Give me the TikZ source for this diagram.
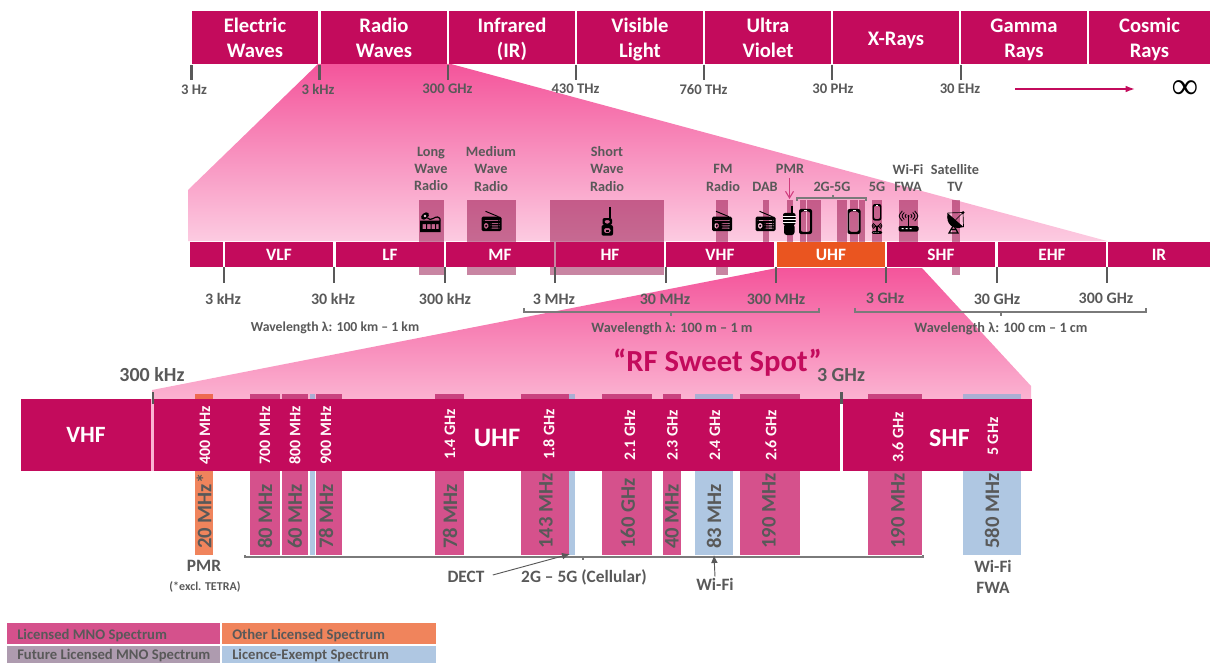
\documentclass[tikz,border=0pt]{standalone}
\usepackage{fontspec}
\setmainfont{Carlito}
\newfontfamily\inffont{Liberation Serif}
\usetikzlibrary{arrows.meta}
\definecolor{barc}{HTML}{C30B5C}
\definecolor{uhfc}{HTML}{EA5520}
\definecolor{txtc}{HTML}{595959}
\definecolor{tickc}{HTML}{595959}
\definecolor{brk}{HTML}{7A7A7A}
\definecolor{fa}{HTML}{F4559B}
\definecolor{fb}{HTML}{FCCBE1}
\definecolor{fc}{HTML}{FBB4D2}
\definecolor{band}{HTML}{8C003C}
\definecolor{lic}{HTML}{D5518C}
\definecolor{lict}{HTML}{C9437F}
\definecolor{oth}{HTML}{F0845C}
\definecolor{otht}{HTML}{EE6A50}
\definecolor{fut}{HTML}{AE9BAF}
\definecolor{exm}{HTML}{AFC7E2}
\definecolor{exmt}{HTML}{ABAFD4}
\newcommand\fsz[2]{\fontsize{#1}{#2}\selectfont\bfseries}
\newcommand\bx[7]{\path[#1] (#3,#4) rectangle (#5,#6) node[pos=.5,align=center,inner sep=0pt,#2]{#7};}
\tikzset{
  x=0.75pt,y=-0.75pt,
  topbar/.style={fill=barc},
  toptext/.style={text=white,font=\fsz{15.5}{18.75},yshift=-1.9pt},
  midbar/.style={fill=barc},
  midtext/.style={text=white,font=\fsz{13}{15}},
  lowbar/.style={fill=barc},
  lowtext/.style={text=white,font=\fsz{17.5}{20}},
  tickmark/.style={draw=tickc,line width=2.2pt},
  toplabel/.style={text=txtc,font=\fsz{11}{13},inner sep=0pt,yshift=-.5pt},
  midlabel/.style={text=txtc,font=\fsz{12}{14},inner sep=0pt},
  wave/.style={text=txtc,font=\fsz{10.7}{13},inner sep=0pt,yshift=-.6pt},
  svc/.style={text=txtc,font=\fsz{10.7}{13},inner sep=0pt,align=center},
  bigfreq/.style={text=txtc,font=\fsz{15}{18},inner sep=0pt},
  vwhite/.style={rotate=90,anchor=west,text=white!90!pink,font=\fsz{12}{14},inner sep=0pt},
  vgrey/.style={rotate=90,anchor=west,text=txtc,font=\fsz{15.5}{18},inner sep=0pt},
  under/.style={text=txtc,font=\fsz{13}{16},inner sep=0pt,align=center},
  legendtxt/.style={text=txtc,font=\fsz{11}{13},inner sep=0pt,anchor=west},
  bracket/.style={draw=brk,line width=0.8pt},
  pics/radio/.style={code={
    \fill[black,rounded corners=1pt,even odd rule] (-10,-4.3) rectangle (10,10)
      (-8,-1.2) rectangle (8,-.2) (-3.2,2) rectangle (-7.5,7.5)
      (-1,2) rectangle (8,3) (-1,4.3) rectangle (8,5.3) (-1,6.6) rectangle (8,7.6);
    \draw[black,line width=.7pt] (-6,-9.7) -- (7,-4.3);
    \fill[black] (-5.3,4.8) circle (1.2);
  }},
  pics/basestation/.style={code={
    \fill[black,even odd rule] (-10.5,-3.5) rectangle (10,8)
      (-8,0) rectangle (-4.5,5) (-3.5,0) rectangle (0,5) (1,0) rectangle (4.5,5) (5.5,0) rectangle (8,5);
    \draw[black,line width=.9pt] (-3,-6) .. controls (0,-2) and (5,-8) .. (7,-7) .. controls (10,-6) and (10,-4) .. (9.5,-3);
    \fill[black,rotate around={40:(-5.5,-8)}] (-5.5,-8) ellipse (4.5 and 3);
    \fill[fb] (-5.5,-8) circle (1.4);
  }},
  pics/handheld/.style={code={
    \draw[black,line width=1pt] (3,-15) -- (3,-4);
    \fill[black,rounded corners=1.5pt,even odd rule] (-4.5,-4) rectangle (5,3) (-5.5,3) rectangle (6,13.7)
      (-2.5,-2) rectangle (3,1.5) (-3,6) rectangle (3.5,11);
    \fill[black] (-1,8) rectangle (1.5,9.5);
  }},
  pics/walkie/.style={code={
    \fill[black] (2.3,-14.5) rectangle (4,-6);
    \fill[black,rounded corners=1.5pt] (-6,-8) rectangle (6.5,4);
    \fill[black,rounded corners=2pt] (-5,3) rectangle (5.5,14);
    \draw[white,line width=.4pt] (-6,-4.5) -- (6.5,-4.5) (-6,-1.5) -- (6.5,-1.5) (-6,1.5) -- (6.5,1.5);
  }},
  pics/phone/.style={code={
    \fill[black,rounded corners=1.5pt,even odd rule] (-6.5,-12.5) rectangle (6.5,12.5) (-4.7,-10) rectangle (4.7,10.3);
    \fill[white] (-1.5,-11.8) rectangle (1.5,-11);
  }},
  pics/router/.style={code={
    \fill[black,rounded corners=1pt] (-10,4) rectangle (10,9.5);
    \fill[white] (-7,6.2) rectangle (-5,7.2) (-3,6.2) rectangle (-1,7.2) (1,6.2) rectangle (3,7.2);
    \draw[black,line width=.8pt] (0,-6) -- (0,4);
    \fill[black] (0,-6) circle (1.2);
    \foreach \r in {3,5.5,8}{
      \draw[black,line width=.6pt] ({-\r*.77},{-6-\r*.64}) .. controls ({-\r*1.3},-6) .. ({-\r*.77},{-6+\r*.64});
      \draw[black,line width=.6pt] ({\r*.77},{-6-\r*.64}) .. controls ({\r*1.3},-6) .. ({\r*.77},{-6+\r*.64});
    }
  }},
  pics/dish/.style={code={
    \fill[black] (-9,-9) .. controls (-11,3) and (-3,8) .. (7,5) -- cycle;
    \draw[black,line width=.5pt] (-9,-9) -- (6.5,-9.5) -- (7,5) (-1,-2) -- (6.5,-9.5);
    \fill[black] (6.5,-9.5) circle (1.5);
    \draw[black,line width=.9pt] (-3,3) -- (-7.5,11) -- (1.5,11) -- cycle (-5.5,7.5) -- (-.5,7.5);
  }},
}
\begin{document}
\begin{tikzpicture}
\useasboundingbox (0,0) rectangle (1210,663);
\clip (0,0) rectangle (1210,663);
% funnels
\shade[top color=fa,bottom color=fb] (318,64) -- (451,64) -- (1107,241) -- (188,241) -- (188,190) -- cycle;
\shade[top color=fa,bottom color=fc] (777,268) -- (922,268) -- (1031,386) -- (1031,400) -- (152,400) -- (152,390) -- cycle;
% service bands
\foreach \a/\b/\e in {419/444/275,467/516/275,550/664/275,716/728/275,763/769/242,952/960/275,787/793/242,800/806/242,807/821/242,837/847/242,850/858/242,859/865/242,872/882/242,899/918/242}
  \fill[band,opacity=.48] (\a,200) rectangle (\b,\e);
% spectrum blocks
\foreach \a/\b/\c/\d in {195/213/oth/otht,250/280/lic/lict,282/308/lic/lict,310/315/exm/exmt,316/342/lic/lict,435/464/lic/lict,569/575/exm/exmt,521/569/lic/lict,602/652/lic/lict,663/681/lic/lict,695/733/exm/exmt,740/800/lic/lict,868/922/lic/lict,963/1021/exm/exmt}{
  \fill[\c] (\a,394) rectangle (\b,555);
  \fill[\d] (\a,393.5) rectangle (\b,400);
}
% top bar
\bx{topbar}{toptext,name=t1}{192}{11}{318}{64}{\strut Electric\\\strut Waves}
\bx{topbar}{toptext,name=t2}{321}{11}{447}{64}{\strut Radio\\\strut Waves}
\bx{topbar}{toptext,name=t3}{449}{11}{575}{64}{\strut Infrared\\\strut (IR)}
\bx{topbar}{toptext,name=t4}{577}{11}{703}{64}{\strut Visible\\\strut Light}
\bx{topbar}{toptext,name=t5}{705}{11}{831}{64}{\strut Ultra\\\strut Violet}
\bx{topbar}{toptext,name=t6}{833}{11}{959}{64}{\strut X-Rays}
\bx{topbar}{toptext,name=t7}{961}{11}{1087}{64}{\strut Gamma\\\strut Rays}
\bx{topbar}{toptext,name=t8}{1089}{11}{1210}{64}{\strut Cosmic\\\strut Rays}
% top ticks and labels
\foreach \x in {191.5,319.5,448,576,704,832,961} \draw[tickmark] (\x,65) -- (\x,80);
\node[toplabel,name=tl1] at (194,89) {3 Hz};
\node[toplabel,name=tl2] at (318,88.5) {3 kHz};
\node[toplabel,name=tl3] at (447.5,88.5) {300 GHz};
\node[toplabel,name=tl4] at (575.5,88.5) {430 THz};
\node[toplabel,name=tl5] at (703.5,88.5) {760 THz};
\node[toplabel,name=tl6] at (833,88.5) {30 PHz};
\node[toplabel,name=tl7] at (960,88.5) {30 EHz};
\coordinate (arrA) at (1015,89); \coordinate (arrB) at (1135,89);
\draw[barc,line width=1.2pt,-{Latex[length=7pt,width=5pt]}] (arrA) -- (arrB);
\node[text=black,font=\inffont\fontsize{28}{30}\selectfont,inner sep=0pt,name=inf] at (1185,90) {∞};
% middle bar
\bx{midbar}{midtext,name=m0}{190}{242}{223}{267}{}
\bx{midbar}{midtext,name=m1}{225}{242}{333}{267}{VLF}
\bx{midbar}{midtext,name=m2}{336}{242}{444}{267}{LF}
\bx{midbar}{midtext,name=m3}{446}{242}{554}{267}{MF}
\bx{midbar}{midtext,name=m4}{556}{242}{664}{267}{HF}
\bx{midbar}{midtext,name=m5}{666}{242}{774}{267}{VHF}
\bx{fill=uhfc}{midtext,name=m6}{777}{242}{885}{267}{UHF}
\bx{midbar}{midtext,name=m7}{887}{242}{995}{267}{SHF}
\bx{midbar}{midtext,name=m8}{998}{242}{1106}{267}{EHF}
\bx{midbar}{midtext,name=m9}{1108}{242}{1210}{267}{IR}
\foreach \x in {224,334,445,555,666,776,886,997,1107} \draw[tickmark] (\x,267) -- (\x,283);
\node[midlabel,name=ml1] at (223,299) {3 kHz};
\node[midlabel,name=ml2] at (333,299) {30 kHz};
\node[midlabel,name=ml3] at (445,299) {300 kHz};
\node[midlabel,name=ml4] at (554,299) {3 MHz};
\node[midlabel,name=ml5] at (665,299) {30 MHz};
\node[midlabel,name=ml6] at (776,299) {300 MHz};
\node[midlabel,name=ml7] at (885,298) {3 GHz};
\node[midlabel,name=ml8] at (997,299) {30 GHz};
\node[midlabel,name=ml9] at (1106,298) {300 GHz};
% wavelength brackets
\draw[bracket] (524,308) -- (524,312) -- (819,312) -- (819,308) (671,312) -- (671,316);
\draw[bracket] (855,308) -- (855,312) -- (1146,312) -- (1146,308) (1001,312) -- (1001,316);
\node[wave,name=w1,font=\fsz{10.3}{13}] at (335,327.5) {Wavelength λ: 100 km – 1 km};
\node[wave,name=w2] at (672,328) {Wavelength λ: 100 m – 1 m};
\node[wave,name=w3] at (1001,328) {Wavelength λ: 100 cm – 1 cm};
% service labels
\node[svc,name=s1] at (431,169) {Long\\Wave\\Radio};
\node[svc,name=s2] at (491,169) {Medium\\Wave\\Radio};
\node[svc,name=s3] at (607,169) {Short\\Wave\\Radio};
\node[svc,name=s4] at (723,178) {FM\\Radio};
\node[svc,name=s5] at (765,187) {DAB};
\node[svc,name=s6] at (790,169) {PMR};
\node[svc,name=s7] at (832,187) {2G-5G};
\node[svc,name=s8] at (877,187) {5G};
\node[svc,name=s9] at (908,178) {Wi-Fi\\FWA};
\node[svc,name=s10] at (955,178) {Satellite\\TV};
\coordinate (pmrA) at (789.5,178); \coordinate (pmrB) at (789.5,199);
\draw[barc!80!white,line width=.8pt,-{Straight Barb[length=5pt,width=6pt]}] (pmrA) -- (pmrB);
\draw[bracket] (797,201) -- (797,198) -- (866,198) -- (866,201) (833,198) -- (833,195);
% icons
\pic at (430.5,224) {basestation};
\pic at (491.5,221) {radio};
\pic at (607,222) {handheld};
\pic at (722,221) {radio};
\pic at (765.5,221) {radio};
\pic at (789,221) {walkie};
\pic at (805.5,221.5) {phone};
\pic at (854,221.5) {phone};
\pic[scale=.66] at (877,212.3) {phone};
\pic[scale=.52] at (877,229) {router};
\pic at (908.5,222) {router};
\pic at (956.5,222) {dish};
% bottom funnel text
\node[text=barc,font=\fsz{23}{28},inner sep=0pt,name=sweet] at (717.5,362.5) {“RF Sweet Spot”};
\node[bigfreq,name=b1] at (152,375) {300 kHz};
\node[bigfreq,name=b2] at (841,375) {3 GHz};
% bottom bar
\fill[fc] (151,399) rectangle (154,471);
\bx{lowbar}{lowtext,name=l1}{21}{399}{151}{471}{VHF}
\path[lowbar] (154,399) rectangle (840,471);
\path[lowbar] (843,399) rectangle (1032,471);
\node[lowtext,font=\fsz{20}{24},inner sep=0pt,name=l2] at (497,438) {UHF};
\node[lowtext,font=\fsz{19.5}{24},inner sep=0pt,name=l3] at (949.5,438) {SHF};
\draw[tickmark] (153,392) -- (153,404);
\draw[tickmark] (841.5,392) -- (841.5,404);
% frequency labels in the bar
\foreach \x/\y/\t [count=\i] in {205/465/400 MHz,265/465/700 MHz,295/465/800 MHz,326/465/900 MHz,450/460/1.4 GHz,549/460/1.8 GHz,630/461/2.1 GHz,672.5/461/2.3 GHz,715/461/2.4 GHz,771/461/2.6 GHz,898/463/3.6 GHz,993/456/5 GHz}
  \node[vwhite,name=vw\i] at (\x,\y) {\t};
% width labels
\foreach \x/\t [count=\i] in {204/20 MHz*,265/80 MHz,295/60 MHz,326/78 MHz,450/78 MHz,546/143 MHz,628/160 GHz,672/40 MHz,714/83 MHz,769/190 MHz,898/190 MHz,992/580 MHz}
  \node[vgrey,name=vg\i] at (\x,549) {\t};
% lower bracket
\draw[bracket] (245,555) -- (245,557) -- (923,557) -- (923,555) (583,557) -- (583,560);
\node[under,name=u1] at (204,566) {PMR};
\node[text=txtc,font=\fsz{9}{11},inner sep=0pt,name=u2] at (205,587) {(*excl. TETRA)};
\node[under,name=u3] at (466,577) {DECT};
\node[under,name=u4] at (584,577) {2G – 5G (Cellular)};
\node[under,name=u5] at (715,584) {Wi-Fi};
\node[under,name=u6] at (993,577) {Wi-Fi\\FWA};
\coordinate (dectT) at (570,554);
\coordinate (wifiT) at (714,555);
\draw[txtc,line width=.7pt,-{Latex[length=6pt,width=5pt]}] (u3.east) ++(8,-2) -- (dectT);
\draw[txtc,line width=.7pt,-{Latex[length=6pt,width=5pt]}] (u5.north) ++(0,-1) -- (wifiT);
% legend
\fill[lic] (7,623) rectangle (220,644);
\fill[oth] (222,623) rectangle (436,644);
\fill[fut] (7,646) rectangle (220,670);
\fill[exm] (222,646) rectangle (436,670);
\node[legendtxt,name=g1] at (17,635.5) {Licensed MNO Spectrum};
\node[legendtxt,name=g2] at (232,635.5) {Other Licensed Spectrum};
\node[legendtxt,name=g3] at (17,655.5) {Future Licensed MNO Spectrum};
\node[legendtxt,name=g4] at (232,655.5) {Licence-Exempt Spectrum};
\end{tikzpicture}
\end{document}
